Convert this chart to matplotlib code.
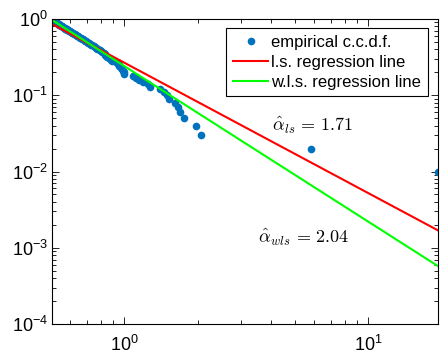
import numpy as np
import matplotlib
matplotlib.use("Agg")
import matplotlib.pyplot as plt
from matplotlib.ticker import FuncFormatter, LogLocator, NullFormatter

plt.rcParams['font.family'] = ['Liberation Sans', 'DejaVu Sans']
plt.rcParams['mathtext.fontset'] = 'cm'

# empirical c.c.d.f. values (sorted sample values and survival probabilities)
ccdf_p = [round(1.0 - 0.01 * i, 2) for i in range(100)]
sample_x = [
    0.505, 0.507, 0.509, 0.511, 0.513, 0.515, 0.516, 0.518, 0.521, 0.523,
    0.526, 0.528, 0.531, 0.533, 0.536, 0.539, 0.541, 0.544, 0.548, 0.551,
    0.555, 0.558, 0.562, 0.565, 0.569, 0.572, 0.576, 0.580, 0.584, 0.589,
    0.593, 0.597, 0.602, 0.606, 0.611, 0.616, 0.620, 0.625, 0.631, 0.636,
    0.641, 0.646, 0.652, 0.658, 0.664, 0.669, 0.676, 0.683, 0.690, 0.695,
    0.700, 0.708, 0.716, 0.723, 0.732, 0.740, 0.748, 0.755, 0.763, 0.772,
    0.780, 0.792, 0.803, 0.813, 0.824, 0.832, 0.835, 0.840, 0.848, 0.862,
    0.880, 0.885, 0.890, 0.925, 0.940, 0.950, 0.955, 0.970, 0.980, 0.985,
    0.995, 1.000, 1.080, 1.120, 1.150, 1.190, 1.250, 1.270, 1.400, 1.450,
    1.500, 1.530, 1.620, 1.655, 1.690, 1.750, 1.970, 2.060, 5.800, 19.31,
]

# regression lines: ccdf ~ C * x^(-alpha)
alpha_ls = 1.71
C_ls = 0.267
alpha_wls = 2.04
C_wls = 0.241

labels = ['empirical c.c.d.f.', 'l.s. regression line', 'w.l.s. regression line']

fig = plt.figure(figsize=(4.41, 3.56), dpi=100)
ax = fig.add_axes([52/441, 1 - 324/356, 386/441, 305/356])

x = np.array(sample_x)
p = np.array(ccdf_p)
ax.loglog(x, p, 'o', color='#0072BD', markersize=5.5, markeredgewidth=0, label=labels[0])
xl = np.array([x.min(), x.max()])
ax.loglog(xl, C_ls * xl ** (-alpha_ls), '-', color='#FF0000', lw=1.5, label=labels[1])
ax.loglog(xl, C_wls * xl ** (-alpha_wls), '-', color='#00FF00', lw=1.5, label=labels[2])

ax.set_xlim(x.min(), x.max())
ax.set_ylim(1e-4, 1)

def fmt(v, pos):
    e = int(round(np.log10(v)))
    return r'$\mathregular{10^{%s}}$' % ('-%d' % (-e) if e < 0 else '%d' % e)

ax.xaxis.set_major_locator(LogLocator(base=10, numticks=10))
ax.yaxis.set_major_locator(LogLocator(base=10, numticks=10))
ax.xaxis.set_major_formatter(FuncFormatter(fmt))
ax.yaxis.set_major_formatter(FuncFormatter(fmt))
ax.xaxis.set_minor_formatter(NullFormatter())
ax.yaxis.set_minor_formatter(NullFormatter())
ax.tick_params(which='both', direction='in', top=True, right=True, labelsize=13, width=0.6)
ax.tick_params(which='major', length=5)
ax.tick_params(which='minor', length=3)
ax.tick_params(axis='x', which='major', pad=8)
ax.tick_params(axis='y', which='major', pad=3)
for s in ax.spines.values():
    s.set_linewidth(0.8)

ax.text(4.03, 0.0397, r'$\hat{\alpha}_{ls}\,=\,1.71$', fontsize=13, va='center', ha='left')
ax.text(3.54, 0.00138, r'$\hat{\alpha}_{wls}\,=\,2.04$', fontsize=13, va='center', ha='left')

leg = ax.legend(loc='upper right', bbox_to_anchor=(0.974, 0.970), fontsize=12,
                frameon=True, fancybox=False, framealpha=1, edgecolor='black',
                handlelength=2.1, handletextpad=0.2, labelspacing=0.3,
                borderpad=0.4, borderaxespad=0)
leg.get_frame().set_linewidth(0.8)

fig.savefig('out.png', dpi=100)
